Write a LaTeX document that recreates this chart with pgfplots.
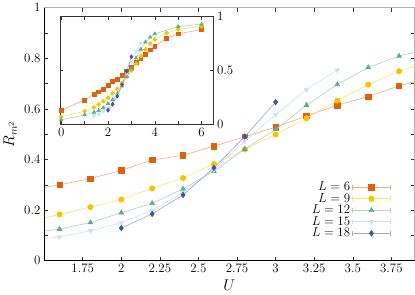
\documentclass[border=0pt]{standalone}
\usepackage{pgfplots}
\usepackage{pgfplotstable}
\pgfplotsset{compat=1.18}
\definecolor{cA}{RGB}{224,96,16}
\definecolor{cB}{RGB}{245,198,0}
\definecolor{cC}{RGB}{92,174,136}
\definecolor{cD}{RGB}{160,196,240}
\definecolor{cE}{RGB}{66,82,166}
\pgfplotstableread{
U R
0 0.128
1 0.225
1.4 0.279
1.6 0.300
1.8 0.325
2.0 0.357
2.2 0.398
2.4 0.417
2.6 0.453
2.8 0.490
3.0 0.528
3.2 0.572
3.4 0.615
3.6 0.649
3.8 0.691
4.0 0.725
4.5 0.800
5.0 0.840
6.0 0.882
}\tabA
\pgfplotstableread{
U R
0 0.067
1 0.120
1.4 0.155
1.6 0.183
1.8 0.212
2.0 0.242
2.2 0.286
2.4 0.327
2.6 0.382
2.8 0.440
3.0 0.499
3.2 0.563
3.4 0.633
3.6 0.696
3.8 0.749
4.0 0.789
4.5 0.849
5.0 0.882
6.0 0.909
}\tabB
\pgfplotstableread{
U R
0 0.040
1 0.085
1.4 0.110
1.6 0.125
1.8 0.151
2.0 0.190
2.2 0.227
2.4 0.284
2.6 0.354
2.8 0.441
3.0 0.519
3.2 0.615
3.4 0.697
3.6 0.764
3.8 0.809
4.0 0.840
5.0 0.909
6.0 0.930
}\tabC
\pgfplotstableread{
U R
1.4 0.080
1.6 0.094
1.8 0.118
2.0 0.151
2.2 0.199
2.4 0.270
2.6 0.360
2.8 0.474
3.0 0.577
3.2 0.677
3.4 0.754
}\tabD
\pgfplotstableread{
U R
2.0 0.129
2.2 0.185
2.4 0.260
2.6 0.367
2.8 0.491
3.0 0.627
}\tabE
\pgfplotsset{
  ser/.style n args={2}{color=#1!50, line width=0.6pt, mark=#2, mark options={solid, fill=#1, draw=#1}},
}
\begin{document}
\begin{tikzpicture}
\begin{axis}[
  name=main,
  scale only axis, width=343bp, height=234.3bp,
  xmin=1.5, xmax=3.9, ymin=0, ymax=1,
  xtick={1.75,2,2.25,2.5,2.75,3,3.25,3.5,3.75},
  ytick={0,0.2,0.4,0.6,0.8,1},
  minor ytick={0.1,0.3,0.5,0.7,0.9},
  tick align=inside,
  major tick length=3.5bp, minor tick length=3.5bp,
  tick style={black!80, line width=0.5pt},
  axis line style={gray!60, line width=0.6pt},
  tick label style={font=\large},
  xlabel={$U$}, ylabel={$R_{m^2}$},
  label style={font=\Large},
  clip marker paths=true,
  mark size=2.5pt,
  legend plot pos=right,
  legend cell align=right,
  legend style={draw=none, fill=none, font=\large, at={(0.945,0.07)}, anchor=south east, row sep=-3pt},
  legend image code/.code={
    \draw[#1] (0bp,-2.5bp) -- (0bp,2.5bp) (35bp,-2.5bp) -- (35bp,2.5bp);
    \draw[mark repeat=2,mark phase=2,#1] plot coordinates {(0bp,0bp) (17.5bp,0bp) (35bp,0bp)};
  },
]
\addplot[ser={cA}{square*}] table[x=U,y=R] {\tabA};
\addlegendentry{$L=6$}
\addplot[ser={cB}{*}] table[x=U,y=R] {\tabB};
\addlegendentry{$L=9$}
\addplot[ser={cC}{triangle*}] table[x=U,y=R] {\tabC};
\addlegendentry{$L=12$}
\addplot[ser={cD}{triangle*}, mark options={rotate=180}] table[x=U,y=R] {\tabD};
\addlegendentry{$L=15$}
\addplot[ser={cE}{diamond*}] table[x=U,y=R] {\tabE};
\addlegendentry{$L=18$}
\end{axis}
\draw[black, line width=0.9pt] (main.north west) -- (main.south west) -- (main.south east);
\begin{axis}[
  at={(14.7bp,126.6bp)}, anchor=south west,
  scale only axis, width=142bp, height=99.4bp,
  xmin=-0.05, xmax=6.5, ymin=0, ymax=1,
  xtick={0,1,2,3,4,5,6}, xticklabels={0,,2,,4,,6},
  ytick={0,0.5,1}, yticklabel pos=right,
  tick align=inside, major tick length=3bp,
  tick style={black!80, line width=0.5pt},
  axis line style={black!80, line width=0.9pt},
  tick label style={font=\large},
  axis background/.style={fill=white},
  mark size=1.8pt,
]
\addplot[ser={cA}{square*}] table[x=U,y=R] {\tabA};
\addplot[ser={cB}{*}] table[x=U,y=R] {\tabB};
\addplot[ser={cC}{triangle*}] table[x=U,y=R] {\tabC};
\addplot[ser={cD}{triangle*}, mark options={rotate=180}] table[x=U,y=R] {\tabD};
\addplot[ser={cE}{diamond*}] table[x=U,y=R] {\tabE};
\end{axis}
\end{tikzpicture}
\end{document}
